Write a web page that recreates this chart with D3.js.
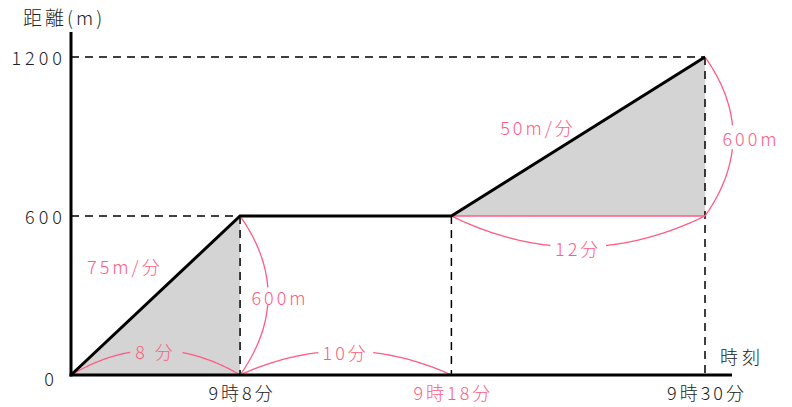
<!DOCTYPE html>
<html>
<head>
<meta charset="utf-8">
<script src="https://cdn.jsdelivr.net/npm/d3@7"></script>
<style>
  body { margin: 0; background: #fff; }
  text { font-family: "Noto Sans CJK JP", "Noto Sans", sans-serif; font-weight: 300; }
</style>
</head>
<body>
<svg id="chart" width="792" height="407"></svg>
<script>
// data
const times = [0, 8, 18, 30];          // minutes after 9:00
const distances = [0, 600, 600, 1200]; // m
const yTicks = [0, 600, 1200];
const xTickLabels = [
    { t: 8, label: "9時8分", pink: false },
    { t: 18, label: "9時18分", pink: true },
    { t: 30, label: "9時30分", pink: false }
];
// arcs: from point to point, label
const arcs = [
    { from: [0, 0], to: [8, 0], label: "8 分" },
    { from: [8, 0], to: [18, 0], label: "10分" },
    { from: [8, 600], to: [8, 0], label: "600m" },
    { from: [18, 600], to: [30, 600], label: "12分" },
    { from: [30, 1200], to: [30, 600], label: "600m" }
];
const speedLabels = [
    { t: 2.55, d: 410, label: "75m/分" },
    { t: 22.1, d: 936, label: "50m/分" }
];

// arc drawing settings (px): bulge, gap around label, label shift
const arcStyle = [
    { bulge: 25, gap: [0.35, 0.66], shift: 0 },
    { bulge: 24, gap: [0.37, 0.63], shift: 0 },
    { bulge: 28, gap: [0.45, 0.56], shift: 12 },
    { bulge: -31, gap: [0.39, 0.61], shift: 0 },
    { bulge: 28, gap: [0.43, 0.58], shift: 18 }
];

const svg = d3.select("#chart");
const pink = "#ff5c80";

const x = d3.scaleLinear().domain([0, 30]).range([71, 705]);
const y = d3.scaleLinear().domain([0, 1200]).range([375, 57]);

// gray triangles
const tris = [
    [[0, 0], [8, 600], [8, 0]],
    [[18, 600], [30, 1200], [30, 600]]
];
svg.selectAll("polygon.tri")
    .data(tris)
    .join("polygon")
    .attr("class", "tri")
    .attr("points", d => d.map(p => [x(p[0]), y(p[1])].join(",")).join(" "))
    .attr("fill", "#d4d4d4");

// dashed guide lines
const pts = times.map((t, i) => [t, distances[i]]).filter(p => p[0] > 0);
pts.forEach(p => {
    svg.append("line")
        .attr("x1", x(p[0])).attr("x2", x(p[0]))
        .attr("y1", y(p[1])).attr("y2", y(0))
        .attr("stroke", "#000").attr("stroke-width", 1.5)
        .attr("stroke-dasharray", "8,6");
});
[[8, 600], [30, 1200]].forEach(p => {
    svg.append("line")
        .attr("x1", x(0)).attr("x2", x(p[0]))
        .attr("y1", y(p[1])).attr("y2", y(p[1]))
        .attr("stroke", "#000").attr("stroke-width", 1.5)
        .attr("stroke-dasharray", "8,6");
});

// pink base line of right triangle
svg.append("line")
    .attr("x1", x(18)).attr("x2", x(30))
    .attr("y1", y(600)).attr("y2", y(600))
    .attr("stroke", pink).attr("stroke-width", 1.3);

// arcs
const lineGen = d3.line();
arcs.forEach((a, k) => {
    const st = arcStyle[k];
    const p0 = [x(a.from[0]), y(a.from[1])];
    const p2 = [x(a.to[0]), y(a.to[1])];
    const dx = p2[0] - p0[0], dy = p2[1] - p0[1];
    const len = Math.hypot(dx, dy);
    // normal (rotate 90°)
    const nx = dy / len, ny = -dx / len;
    const c = [(p0[0] + p2[0]) / 2 + nx * st.bulge * 2, (p0[1] + p2[1]) / 2 + ny * st.bulge * 2];
    const q = t => [
        (1 - t) * (1 - t) * p0[0] + 2 * (1 - t) * t * c[0] + t * t * p2[0],
        (1 - t) * (1 - t) * p0[1] + 2 * (1 - t) * t * c[1] + t * t * p2[1]
    ];
    [[0, st.gap[0]], [st.gap[1], 1]].forEach(r => {
        const seg = d3.range(0, 41).map(i => q(r[0] + (r[1] - r[0]) * i / 40));
        svg.append("path")
            .attr("d", lineGen(seg))
            .attr("fill", "none")
            .attr("stroke", pink)
            .attr("stroke-width", 1.3);
    });
    const m = q(0.5);
    svg.append("text")
        .attr("x", m[0] + st.shift).attr("y", m[1] + 1)
        .attr("text-anchor", "middle")
        .attr("dominant-baseline", "central")
        .attr("font-size", 18)
        .attr("letter-spacing", 3)
        .attr("fill", pink)
        .text(a.label);
});

// speed labels
svg.selectAll("text.speed")
    .data(speedLabels)
    .join("text")
    .attr("class", "speed")
    .attr("x", d => x(d.t)).attr("y", d => y(d.d))
    .attr("text-anchor", "middle")
    .attr("dominant-baseline", "central")
    .attr("font-size", 18)
    .attr("letter-spacing", 3)
    .attr("fill", pink)
    .text(d => d.label);

// main line
svg.append("path")
    .attr("d", d3.line().x((d, i) => x(times[i])).y(d => y(d))(distances))
    .attr("fill", "none")
    .attr("stroke", "#000")
    .attr("stroke-width", 3);

// axes
svg.append("line")
    .attr("x1", x(0)).attr("x2", x(0))
    .attr("y1", 32).attr("y2", y(0) + 1.5)
    .attr("stroke", "#000").attr("stroke-width", 3);
svg.append("line")
    .attr("x1", x(0) - 1.5).attr("x2", 732)
    .attr("y1", y(0)).attr("y2", y(0))
    .attr("stroke", "#000").attr("stroke-width", 3);

// y tick labels
svg.selectAll("text.ytick")
    .data(yTicks)
    .join("text")
    .attr("class", "ytick")
    .attr("x", d => d === 0 ? 58 : 66)
    .attr("y", d => y(d) + (d === 0 ? 3 : 0))
    .attr("text-anchor", "end")
    .attr("dominant-baseline", "central")
    .attr("font-size", 18)
    .attr("letter-spacing", 4)
    .attr("fill", "#222")
    .text(d => d);

// x tick labels
svg.selectAll("text.xtick")
    .data(xTickLabels)
    .join("text")
    .attr("class", "xtick")
    .attr("x", d => x(d.t) + 2).attr("y", 392)
    .attr("text-anchor", "middle")
    .attr("dominant-baseline", "central")
    .attr("font-size", 18)
    .attr("letter-spacing", 3)
    .attr("fill", d => d.pink ? pink : "#222")
    .text(d => d.label);

// axis titles
svg.append("text")
    .attr("x", 23).attr("y", 16)
    .attr("dominant-baseline", "central")
    .attr("font-size", 19)
    .attr("letter-spacing", 3)
    .attr("fill", "#222")
    .text("距離(m)");
svg.append("text")
    .attr("x", 720).attr("y", 356)
    .attr("dominant-baseline", "central")
    .attr("font-size", 18)
    .attr("letter-spacing", 4)
    .attr("fill", "#222")
    .text("時刻");
</script>
</body>
</html>
